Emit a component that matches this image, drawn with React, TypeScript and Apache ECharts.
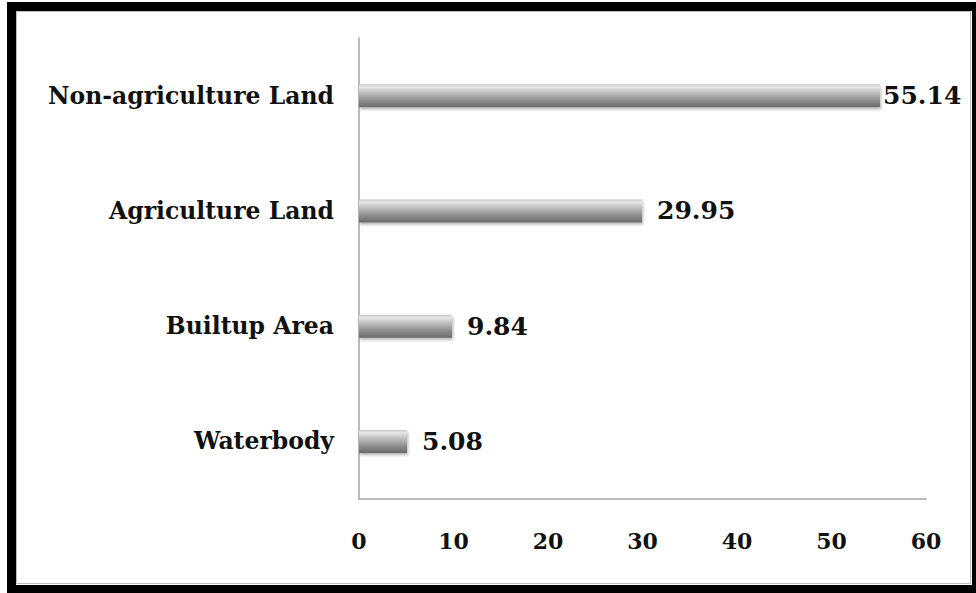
import React, { useEffect, useRef } from "react";
import * as echarts from "echarts";

const categories = ["Waterbody", "Builtup Area", "Agriculture Land", "Non-agriculture Land"];
const values = [5.08, 9.84, 29.95, 55.14];
const xTicks = [0, 10, 20, 30, 40, 50, 60];

export default function App() {
  const ref = useRef<HTMLDivElement>(null);
  useEffect(() => {
    if (!ref.current) return;
    const chart = echarts.init(ref.current, null, { renderer: "svg" });
    const barGradient = new echarts.graphic.LinearGradient(0, 0, 0, 1, [
      { offset: 0, color: "#c4c4c4" },
      { offset: 0.12, color: "#e8e8e8" },
      { offset: 0.35, color: "#c2c2c2" },
      { offset: 0.7, color: "#8e8e8e" },
      { offset: 1, color: "#6a6a6a" },
    ]);
    const serif = "'DejaVu Serif', serif";
    chart.setOption({
      animation: false,
      backgroundColor: "#ffffff",
      grid: { left: 359, right: 50, top: 38, bottom: 94, containLabel: false },
      xAxis: {
        type: "value",
        min: xTicks[0],
        max: xTicks[xTicks.length - 1],
        interval: 10,
        axisLine: { show: true, lineStyle: { color: "#a6a6a6", width: 1.5 } },
        axisTick: { show: false },
        splitLine: { show: false },
        axisLabel: {
          margin: 31,
          color: "#111",
          fontFamily: serif,
          fontWeight: "bold",
          fontSize: 22,
        },
      },
      yAxis: {
        type: "category",
        data: categories,
        axisLine: { show: true, lineStyle: { color: "#a6a6a6", width: 1.5 } },
        axisTick: { show: false },
        axisLabel: {
          margin: 25,
          color: "#111",
          fontFamily: serif,
          fontWeight: "bold",
          fontSize: 23.5,
        },
      },
      series: [
        {
          type: "bar",
          data: values.map((v, i) => ({
            value: v,
            label: { distance: i === values.length - 1 ? 3 : 15 },
          })),
          barWidth: 23,
          itemStyle: {
            color: barGradient,
            shadowColor: "rgba(0,0,0,0.3)",
            shadowBlur: 3,
            shadowOffsetY: 2,
            shadowOffsetX: 1,
          },
          label: {
            show: true,
            position: "right",
            color: "#111",
            fontFamily: serif,
            fontWeight: "bold",
            fontSize: 25,
            formatter: (p: any) => p.value.toFixed(2),
          },
        },
      ],
      graphic: [
        {
          type: "rect",
          shape: { x: 11.5, y: 6.5, width: 965, height: 583 },
          style: { fill: "none", stroke: "#000", lineWidth: 9 },
          silent: true,
        },
        {
          type: "rect",
          shape: { x: 16.5, y: 11.5, width: 954, height: 572 },
          style: { fill: "none", stroke: "#bbbbbb", lineWidth: 1 },
          silent: true,
        },
      ],
    });
    return () => chart.dispose();
  }, []);
  return (
    <div
      ref={ref}
      style={{ position: "fixed", left: 0, top: 0, width: 976, height: 593, background: "#fff" }}
    />
  );
}
